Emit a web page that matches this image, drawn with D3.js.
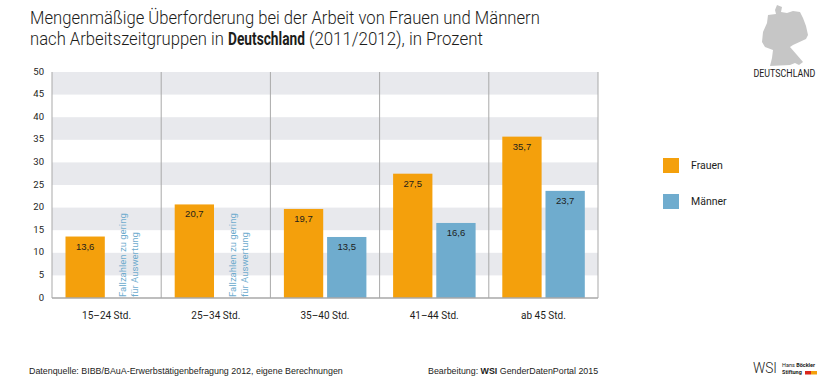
<!DOCTYPE html>
<html>
<head>
<meta charset="utf-8">
<script src="https://cdn.jsdelivr.net/npm/d3@7/dist/d3.min.js"></script>
<style>
  html, body { margin: 0; padding: 0; background: #fff; }
  svg { display: block; }
  text { font-family: Roboto, "Liberation Sans", sans-serif; fill: #1d1d1b; }
  .tick line, .domain { display: none; }
</style>
</head>
<body>
<svg id="chart" width="823" height="380"></svg>
<script>
const groups = ["15–24 Std.", "25–34 Std.", "35–40 Std.", "41–44 Std.", "ab 45 Std."]
const seriesNames = ["Frauen", "Männer"]
const frauen = [13.6, 20.7, 19.7, 27.5, 35.7]
const maenner = [null, null, 13.5, 16.6, 23.7]
const yTicks = [0, 5, 10, 15, 20, 25, 30, 35, 40, 45, 50]
const noDataLines = ["Fallzahlen zu gering", "für Auswertung"]

const colours = { "Frauen": "#f4a00c", "Männer": "#6facce" }
const format = d3.format(".1f")
const comma = (d) => format(d).replace(".", ",")

const svg = d3.select("#chart")

const x = d3.scaleBand().domain(groups).range([52, 598])
const inner = d3.scaleBand().domain(seriesNames).range([13.5, 96]).paddingInner(0.09)
const y = d3.scaleLinear().domain([0, 50]).range([298, 72])

// squeeze a text horizontally so it takes exactly the given width
const fitted = (px, py, len, size, weight, label) => {
    const t = svg.append("text")
        .attr("font-size", size)
        .attr("font-weight", weight)
        .text(label)
    const natural = t.node().getComputedTextLength()
    t.attr("transform", `translate(${px},${py}) scale(${len / natural},1)`)
    return t
}

// title, split up so each piece can be fitted to the reference width
fitted(30, 24, 510, 17.5, 300, "Mengenmäßige Überforderung bei der Arbeit von Frauen und Männern")
fitted(30, 45, 194, 17.5, 300, "nach Arbeitszeitgruppen in")
fitted(228, 45, 77, 17.5, "bold", "Deutschland")
fitted(309, 45, 174, 17.5, 300, "(2011/2012), in Prozent")

// grey bands every second step
const bandTicks = yTicks.filter((d, i) => i % 2 === 1)
svg.append("g").selectAll("rect").data(bandTicks).join("rect")
  .attr("x", 52)
  .attr("width", 546)
  .attr("y", (d) => y(d + 5))
  .attr("height", (d) => y(d) - y(d + 5))
  .attr("fill", "#e8e9ed")

// group separators
const separators = groups.map((d) => x(d)).concat([x.range()[1]])
svg.append("g").selectAll("line").data(separators).join("line")
  .attr("x1", (d) => d).attr("x2", (d) => d)
  .attr("y1", y(50)).attr("y2", y(0))
  .attr("stroke", "#a9a9a9")
  .attr("stroke-width", 1)

// y axis
const yAxis = svg.append("g")
  .attr("transform", "translate(44,-1)")
  .call(d3.axisLeft(y).tickValues(yTicks).tickSize(0).tickPadding(0))
yAxis.selectAll("text").attr("font-size", 9.5).attr("font-family", "Liberation Sans")

// bars
const rows = []
groups.forEach((g, i) => {
  rows.push({ group: g, series: "Frauen", value: frauen[i] })
  rows.push({ group: g, series: "Männer", value: maenner[i] })
})
const present = rows.filter((d) => d.value !== null)

svg.append("g").selectAll("rect").data(present).join("rect")
  .attr("x", (d) => x(d.group) + inner(d.series))
  .attr("width", inner.bandwidth())
  .attr("y", (d) => y(d.value))
  .attr("height", (d) => y(0) - y(d.value))
  .attr("fill", (d) => colours[d.series])

svg.append("g").selectAll("text").data(present).join("text")
  .attr("x", (d) => x(d.group) + inner(d.series) + inner.bandwidth() / 2)
  .attr("y", (d) => y(d.value) + 13)
  .attr("text-anchor", "middle")
  .attr("font-size", 9.5)
  .style("font-family", "Liberation Sans")
  .text((d) => comma(d.value))

// baseline
svg.append("line")
  .attr("x1", 52).attr("x2", 598)
  .attr("y1", y(0)).attr("y2", y(0))
  .attr("stroke", "#a9a9a9")
  .attr("stroke-width", 1.5)

// note in place of the missing bars
const missing = rows.filter((d) => d.value === null)
missing.forEach((d) => {
  const cx = x(d.group) + inner(d.series) + inner.bandwidth() / 2
  noDataLines.forEach((line, i) => {
    svg.append("text")
      .attr("transform", `translate(${cx - 2 + i * 12},${y(0) - 1}) rotate(-90)`)
      .attr("font-size", 9.5)
      .style("fill", "#6facce")
      .text(line)
  })
})

// x labels
const xAxis = svg.append("g")
  .attr("transform", "translate(0,312)")
  .call(d3.axisBottom(x).tickSize(0).tickPadding(0))
xAxis.selectAll("text").attr("font-size", 10).attr("font-family", "Roboto")

// legend
const legendY = d3.scalePoint().domain(seriesNames).range([158, 194])
const legend = svg.append("g").selectAll("g").data(seriesNames).join("g")
  .attr("transform", (d) => `translate(663,${legendY(d)})`)
legend.append("rect")
  .attr("width", 16).attr("height", 15)
  .attr("fill", (d) => colours[d])
legend.append("text")
  .attr("x", 28).attr("y", 11)
  .attr("font-size", 10.5)
  .text((d) => d)

// footer
svg.append("text")
  .attr("x", 29).attr("y", 374).attr("font-size", 8.9)
  .style("font-family", "Liberation Sans")
  .text("Datenquelle: BIBB/BAuA-Erwerbstätigenbefragung 2012, eigene Berechnungen")
const credit = svg.append("text").attr("x", 428).attr("y", 374).attr("font-size", 8.85)
  .style("font-family", "Liberation Sans")
credit.append("tspan").text("Bearbeitung: ")
credit.append("tspan").attr("font-weight", "bold").text("WSI")
credit.append("tspan").text(" GenderDatenPortal 2015")

// Germany icon
const germany = [[777,5],[782,7],[781,12],[787,13],[793,11],[800,12],[803,18],[806,26],[808,35],[806,39],[793,45],[790,47],[797,55],[803,62],[799,65],[795,63],[790,65],[770,66],[772,58],[773,50],[765,47],[762,42],[763,32],[767,23],[768,15],[776,14],[775,10]]
svg.append("path")
  .attr("d", d3.line().curve(d3.curveLinearClosed)(germany))
  .attr("fill", "#c6c6c6")
fitted(753.5, 76.5, 62, 10.5, 400, "DEUTSCHLAND")

// logos
fitted(753, 373, 24, 15, 300, "WSI")
const boeckler = svg.append("text").attr("x", 782).attr("y", 367).attr("font-size", 5.5)
boeckler.append("tspan").text("Hans ")
boeckler.append("tspan").attr("font-weight", "bold").text("Böckler")
svg.append("text").attr("x", 782).attr("y", 374).attr("font-size", 5.5).attr("font-weight", "bold").text("Stiftung")
svg.append("rect").attr("x", 805).attr("y", 371).attr("width", 6).attr("height", 3.5).attr("fill", "#d9261c")
svg.append("rect").attr("x", 811).attr("y", 371).attr("width", 6).attr("height", 3.5).attr("fill", "#f4a00c")
</script>
</body>
</html>
